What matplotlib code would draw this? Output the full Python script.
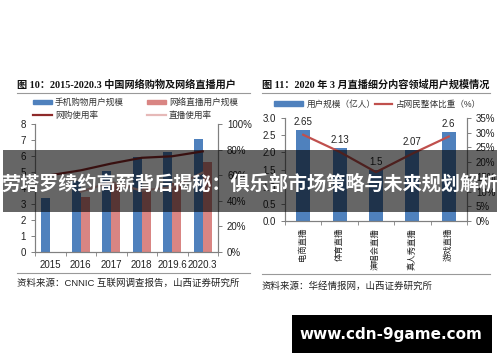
import numpy as np
import matplotlib
matplotlib.use("Agg")
import matplotlib.pyplot as plt
from matplotlib.patches import Rectangle
from matplotlib.lines import Line2D
from matplotlib.ticker import FuncFormatter

plt.rcParams['font.family'] = ['Liberation Sans', 'Noto Sans CJK SC']
plt.rcParams['axes.unicode_minus'] = False

# 图10 数据
years = ['2015', '2016', '2017', '2018', '2019.6', '2020.3']
mobile_shop_users = [3.40, 4.41, 5.06, 5.92, 6.22, 7.07]      # 亿
live_users = [np.nan, 3.44, 4.22, 3.97, 4.33, 5.60]            # 亿
shop_rate = [60.0, 63.8, 69.1, 73.6, 74.8, 78.6]               # %
live_rate = [np.nan, 47.1, 54.7, 47.9, 50.7, 62.0]             # %

# 图11 数据
genres = ['电商直播', '体育直播', '演唱会直播', '真人秀直播', '游戏直播']
genre_users = [2.65, 2.13, 1.5, 2.07, 2.6]                     # 亿人
genre_share = [29.3, 23.5, 16.6, 22.9, 28.7]                   # %

blue = '#4F81BD'
pink = '#D98583'
dark_red = '#8E2A2A'
light_pink = '#E6B9B8'
red = '#C0504D'
spine_c = '#808080'

W, H = 500, 362
fig = plt.figure(figsize=(5, 3.62), dpi=100)
fig.patch.set_facecolor('white')


def fx(px):
    return px / W


def fy(py):
    return 1 - py / H


serif = ['Liberation Serif', 'Noto Sans CJK SC']


def style_axes(ax, axr):
    for a in (ax, axr):
        a.spines['top'].set_visible(False)
        for s in ('left', 'right', 'bottom'):
            a.spines[s].set_color(spine_c)
            a.spines[s].set_linewidth(0.8)
        a.tick_params(colors=spine_c, labelcolor='#222222', labelsize=7, length=3, width=0.7)


def legend_at(handles, labels, x, y, hl, **kw):
    fig.legend(handles, labels, loc='center left', bbox_to_anchor=(fx(x), fy(y)),
               frameon=False, fontsize=6.2, handlelength=hl, handleheight=0.5,
               handletextpad=0.35, borderpad=0, borderaxespad=0, labelcolor='#333333', **kw)


# ---------- 左图 ----------
ax1 = fig.add_axes([fx(35), fy(252), fx(218 - 35), (252 - 124) / H])
ax1r = ax1.twinx()
x = np.arange(len(years))
bw = 0.29
ax1.bar(x - bw / 2, mobile_shop_users, bw, color=blue, zorder=2)
ax1.bar(x + bw / 2, live_users, bw, color=pink, zorder=2)
ax1r.plot(x, shop_rate, color=dark_red, lw=1.6)
ax1r.plot(x, live_rate, color=light_pink, lw=1.6)
ax1.set_xlim(-0.5, len(years) - 0.5)
ax1.set_ylim(0, 8)
ax1.set_yticks(range(0, 9))
ax1r.set_ylim(0, 100)
ax1r.set_yticks(range(0, 101, 20))
ax1r.yaxis.set_major_formatter(FuncFormatter(lambda v, p: f'{v:.0f}%'))
ax1.set_xticks(x)
ax1.set_xticklabels(years, fontsize=7)
ax1.set_xticks(np.arange(-0.5, len(years)), minor=True)
style_axes(ax1, ax1r)
ax1.tick_params(axis='x', which='major', length=0, pad=6)
ax1.tick_params(axis='x', which='minor', length=3, color=spine_c)

legend_at([Rectangle((0, 0), 1, 1, color=blue), Line2D([], [], color=dark_red, lw=1.6)],
          ['手机购物用户规模', '网购使用率'], 33, 109, 2.2, labelspacing=0.45)
legend_at([Rectangle((0, 0), 1, 1, color=pink), Line2D([], [], color=light_pink, lw=1.6)],
          ['网络直播用户规模', '直播使用率'], 147, 109, 2.2, labelspacing=0.45)

fig.text(fx(17), fy(85), '图 10：2015-2020.3 中国网络购物及网络直播用户', family=serif,
         fontsize=7.3, weight='bold', va='center', ha='left', color='#111111')
fig.add_artist(Line2D([fx(17), fx(250)], [fy(93), fy(93)], color='#999999', lw=0.8))
fig.add_artist(Line2D([fx(17), fx(250)], [fy(273), fy(273)], color='#999999', lw=0.8))
fig.text(fx(17), fy(283), '资料来源：CNNIC 互联网调查报告，山西证券研究所', fontsize=6.8,
         va='center', ha='left', color='#222222')

# ---------- 右图 ----------
ax2 = fig.add_axes([fx(285), fy(221), fx(467 - 285), (221 - 118) / H])
ax2r = ax2.twinx()
x2 = np.arange(len(genres))
ax2.bar(x2, genre_users, 0.39, color=blue, zorder=2)
for xi, v in zip(x2, genre_users):
    ax2.annotate(f'{v:g}', (xi, v), xytext=(0, 2), textcoords='offset points',
                 ha='center', va='bottom', fontsize=7, color='#222222')
ax2r.plot(x2, genre_share, color=red, lw=1.6)
ax2.set_xlim(-0.5, len(genres) - 0.5)
ax2.set_ylim(0, 3)
ax2.set_yticks(np.arange(0, 3.01, 0.5))
ax2.yaxis.set_major_formatter(FuncFormatter(lambda v, p: f'{v:.1f}'))
ax2r.set_ylim(0, 35)
ax2r.set_yticks(range(0, 36, 5))
ax2r.yaxis.set_major_formatter(FuncFormatter(lambda v, p: f'{v:.0f}%'))
style_axes(ax2, ax2r)
ax2.set_xticks(x2)
ax2.set_xticklabels(genres, rotation=90, fontsize=6, va='top', ha='center')
ax2.set_xticks(np.arange(-0.5, len(genres)), minor=True)
ax2.tick_params(axis='x', which='major', length=0, pad=5)
ax2.tick_params(axis='x', which='minor', length=3, color=spine_c)

legend_at([Rectangle((0, 0), 1, 1, color=blue)], ['用户规模（亿人）'], 274, 104, 3.4)
legend_at([Line2D([], [], color=red, lw=1.6)], ['占网民整体比重（%）'], 375, 104, 2.0)

fig.text(fx(262), fy(85), '图 11：2020 年 3 月直播细分内容领域用户规模情况', family=serif,
         fontsize=7.3, weight='bold', va='center', ha='left', color='#111111')
fig.add_artist(Line2D([fx(262), fx(490)], [fy(93), fy(93)], color='#999999', lw=0.8))
fig.add_artist(Line2D([fx(262), fx(490)], [fy(274), fy(274)], color='#999999', lw=0.8))
fig.text(fx(262), fy(286), '资料来源：华经情报网，山西证券研究所', fontsize=6.8,
         va='center', ha='left', color='#222222')

# ---------- 覆盖横幅 ----------
fig.patches.append(Rectangle((fx(3), fy(212)), fx(494), (212 - 150) / H, transform=fig.transFigure,
                             facecolor='black', alpha=0.6, edgecolor='none', zorder=10))
fig.text(0.5, fy(184), '劳塔罗续约高薪背后揭秘：俱乐部市场策略与未来规划解析', fontsize=13.8,
         weight='bold', color='white', ha='center', va='center', zorder=11,
         family=['Noto Sans CJK SC', 'DejaVu Sans'])

fig.patches.append(Rectangle((fx(292), fy(353)), fx(200), (353 - 315) / H, transform=fig.transFigure,
                             facecolor='black', edgecolor='none', zorder=10))
fig.text(fx(391), fy(334), 'www.cdn-9game.com', fontsize=11, weight='bold', color='white',
         ha='center', va='center', zorder=11, family=['DejaVu Sans'])

fig.savefig('out.png', dpi=100, facecolor='white')
